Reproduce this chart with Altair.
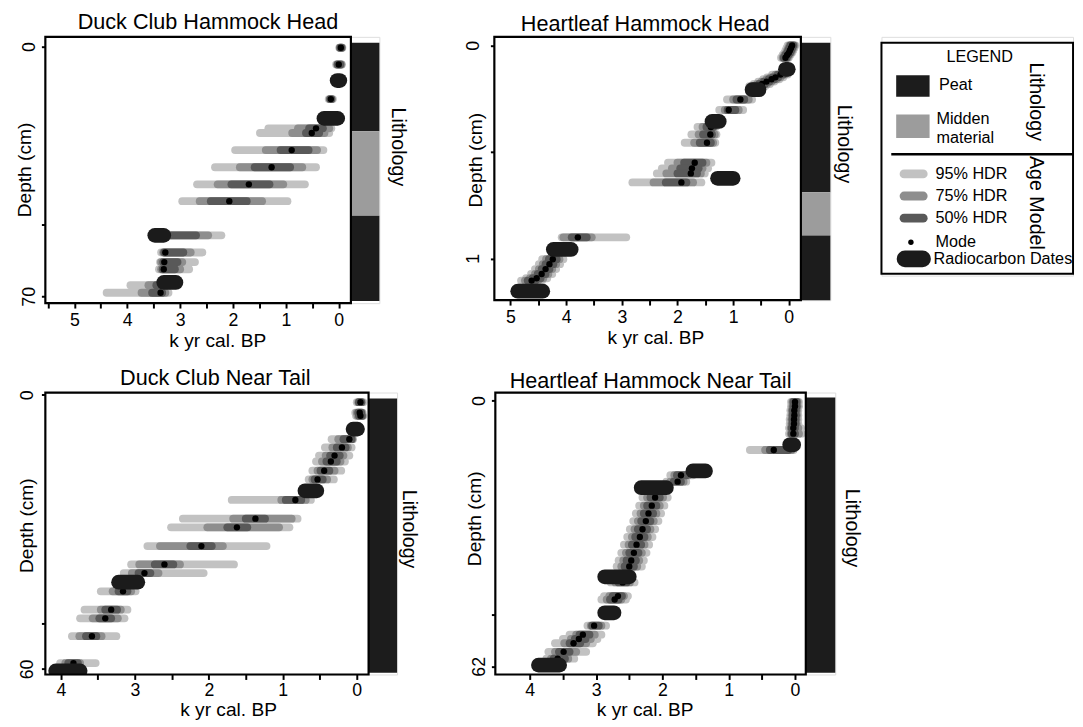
import altair as alt
import pandas as pd

FONT = "Liberation Sans"
C95, C75, C50 = "#c2c2c2", "#8e8e8e", "#595959"
CMODE, CDATE = "#000000", "#1b1b1b"
CPEAT, CMID = "#1c1c1c", "#9c9c9c"

# ---------------- Panel 1: Duck Club Hammock Head (depth cm, age k yr) -------------
p1_depth = [0.3, 5.0, 14.7, 22.9, 24.2, 29.0, 33.8, 38.6, 43.3, 52.9, 57.7, 60.4, 62.4, 66.9, 69.0]
p1_o95 = [-0.01, 0.05, 0.19, 1.33, 1.49, 1.96, 2.34, 2.68, 2.96, 3.45, 3.36, 3.38, 3.40, 3.94, 4.39]
p1_y95 = [-0.07, -0.06, 0.11, 0.14, 0.18, 0.29, 0.43, 0.64, 0.97, 2.22, 2.58, 2.72, 2.83, 3.15, 3.22]
p1_o75 = [-0.02, 0.03, 0.17, 0.77, 0.88, 1.38, 1.87, 2.29, 2.63, 3.42, 3.32, 3.36, 3.36, 3.60, 3.73]
p1_y75 = [-0.06, -0.05, 0.13, 0.18, 0.27, 0.41, 0.69, 1.05, 1.45, 2.47, 2.80, 2.96, 3.00, 3.20, 3.28]
p1_o50 = [-0.03, 0.02, 0.16, 0.56, 0.62, 1.10, 1.59, 2.03, 2.42, 3.38, 3.30, 3.32, 3.33, 3.45, 3.53]
p1_y50 = [-0.05, -0.03, 0.14, 0.30, 0.37, 0.57, 0.92, 1.31, 1.74, 2.70, 2.94, 3.05, 3.10, 3.25, 3.34]
p1_mode = [-0.04, 0.00, 0.15, 0.43, 0.51, 0.89, 1.27, 1.70, 2.07, 3.35, 3.28, 3.30, 3.31, 3.35, 3.37]
p1_date_depth = [9.5, 20.1, 52.9, 66.1]
p1_date_old = [0.03, 0.28, 3.48, 3.31]
p1_date_young = [-0.02, 0.02, 3.31, 3.08]
p1_lith_top = [-1.1, 23.7, 47.4]
p1_lith_bot = [23.7, 47.4, 71.3]
p1_lith_type = ["Peat", "Midden material", "Peat"]

# ---------------- Panel 2: Heartleaf Hammock Head (depth m) -------------
p2_depth = [0.0, 0.012, 0.024, 0.035, 0.045, 0.058,
            0.137, 0.150, 0.159, 0.170, 0.181, 0.191,
            0.254, 0.303, 0.383, 0.418, 0.457, 0.551, 0.577, 0.601, 0.643, 0.901,
            1.004, 1.027, 1.050, 1.073, 1.093, 1.104]
p2_o95 = [0.02, 0.04, 0.06, 0.08, 0.11, 0.14,
          0.30, 0.39, 0.46, 0.55, 0.63, 0.71,
          1.11, 1.25, 1.64, 1.75, 1.87, 2.17, 2.28, 2.37, 2.81, 4.08,
          4.43, 4.49, 4.56, 4.63, 4.72, 4.81]
p2_y95 = [-0.12, -0.10, -0.08, -0.06, -0.03, 0.00,
          0.02, 0.10, 0.17, 0.26, 0.34, 0.42,
          0.66, 0.82, 1.31, 1.30, 1.32, 1.39, 1.45, 1.51, 1.57, 2.92,
          4.05, 4.11, 4.18, 4.25, 4.34, 4.43]
p2_o75 = [-0.01, 0.01, 0.03, 0.05, 0.08, 0.11,
          0.24, 0.33, 0.40, 0.49, 0.57, 0.65,
          1.00, 1.15, 1.55, 1.62, 1.70, 2.00, 2.10, 2.20, 2.43, 4.05,
          4.36, 4.42, 4.49, 4.56, 4.65, 4.74]
p2_y75 = [-0.10, -0.08, -0.06, -0.04, -0.01, 0.02,
          0.07, 0.15, 0.22, 0.31, 0.39, 0.47,
          0.72, 0.90, 1.34, 1.33, 1.36, 1.48, 1.55, 1.58, 1.72, 3.54,
          4.12, 4.18, 4.25, 4.32, 4.41, 4.50]
p2_o50 = [-0.03, -0.01, 0.01, 0.03, 0.06, 0.09,
          0.20, 0.29, 0.36, 0.45, 0.53, 0.61,
          0.94, 1.10, 1.48, 1.54, 1.60, 1.88, 1.95, 2.00, 2.21, 3.90,
          4.31, 4.37, 4.44, 4.51, 4.60, 4.69]
p2_y50 = [-0.08, -0.06, -0.04, -0.02, 0.01, 0.04,
          0.10, 0.19, 0.26, 0.35, 0.43, 0.51,
          0.80, 0.96, 1.36, 1.38, 1.40, 1.55, 1.62, 1.65, 1.84, 3.63,
          4.17, 4.23, 4.30, 4.37, 4.46, 4.55]
p2_mode = [-0.06, -0.04, -0.02, 0.00, 0.03, 0.06,
           0.15, 0.24, 0.31, 0.40, 0.48, 0.56,
           0.87, 1.08, 1.40, 1.41, 1.47, 1.69, 1.74, 1.76, 1.93, 3.79,
           4.24, 4.30, 4.37, 4.44, 4.53, 4.62]
p2_date_depth = [0.112, 0.208, 0.357, 0.624, 0.958, 1.154]
p2_date_old = [0.06, 0.66, 1.38, 1.28, 4.23, 4.87]
p2_date_young = [0.01, 0.535, 1.25, 1.00, 3.91, 4.42]
p2_lith_top = [-0.012, 0.689, 0.892]
p2_lith_bot = [0.689, 0.892, 1.196]
p2_lith_type = ["Peat", "Midden material", "Peat"]

# ---------------- Panel 3: Duck Club Near Tail -------------
p3_depth = [1.6, 3.9, 4.6, 9.7, 11.5, 13.3, 14.6, 16.6, 18.5, 23.0, 27.1, 29.0, 33.1, 37.1, 39.0,
            43.0, 47.0, 48.9, 52.8, 58.7]
p3_o95 = [0.00, 0.02, 0.01, 0.34, 0.43, 0.51, 0.55, 0.60, 0.65, 1.69, 2.35, 2.51, 2.83, 3.05, 3.15,
          3.46, 3.68, 3.74, 3.85, 4.01]
p3_y95 = [-0.09, -0.08, -0.09, 0.05, 0.07, 0.10, 0.16, 0.21, 0.31, 0.62, 0.80, 0.91, 1.22, 1.66, 2.07,
          2.99, 3.10, 3.14, 3.25, 3.53]
p3_o75 = [-0.02, 0.00, -0.01, 0.25, 0.33, 0.42, 0.47, 0.53, 0.60, 1.02, 1.67, 2.02, 2.66, 2.94, 3.04,
          3.30, 3.46, 3.57, 3.75, 3.94]
p3_y75 = [-0.07, -0.07, -0.08, 0.06, 0.12, 0.18, 0.22, 0.30, 0.40, 0.69, 0.88, 1.05, 1.81, 2.39, 2.68,
          3.05, 3.19, 3.23, 3.45, 3.74]
p3_o50 = [-0.03, -0.02, -0.03, 0.18, 0.27, 0.36, 0.41, 0.49, 0.57, 0.96, 1.50, 1.75, 2.25, 2.73, 2.95,
          3.22, 3.40, 3.48, 3.66, 3.90]
p3_y50 = [-0.06, -0.06, -0.07, 0.07, 0.15, 0.23, 0.27, 0.37, 0.46, 0.75, 1.24, 1.48, 1.96, 2.48, 2.79,
          3.10, 3.24, 3.32, 3.52, 3.77]
p3_mode = [-0.05, -0.04, -0.05, 0.10, 0.20, 0.30, 0.35, 0.44, 0.53, 0.83, 1.37, 1.62, 2.10, 2.60, 2.87,
           3.16, 3.32, 3.40, 3.58, 3.83]
p3_date_depth = [7.5, 21.0, 41.0, 60.4]
p3_date_old = [0.05, 0.70, 3.22, 4.07]
p3_date_young = [-0.01, 0.54, 2.96, 3.74]
p3_lith_top = [0.8]
p3_lith_bot = [60.8]
p3_lith_type = ["Peat"]

# ---------------- Panel 4: Heartleaf Hammock Near Tail -------------
p4_depth = [0.3, 1.3, 2.3, 3.4, 4.4, 5.4, 6.4, 7.7, 11.5, 17.4, 18.9,
            22.6, 24.5, 26.3, 28.1, 30.0, 31.8, 33.6, 35.5, 37.3, 38.7,
            42.4, 45.6, 46.4, 52.5, 54.6, 55.6, 56.6, 58.6, 60.2]
p4_o95 = [0.06, 0.06, 0.07, 0.07, 0.08, 0.08, 0.09, 0.09, 0.68, 1.88, 1.94,
          2.30, 2.35, 2.40, 2.44, 2.49, 2.53, 2.58, 2.62, 2.66, 2.69,
          2.78, 2.88, 2.92, 3.13, 3.40, 3.50, 3.62, 3.72, 3.75]
p4_y95 = [-0.06, -0.06, -0.05, -0.05, -0.05, -0.05, -0.09, -0.10, 0.02, 1.54, 1.64,
          1.92, 1.97, 2.02, 2.06, 2.11, 2.15, 2.20, 2.24, 2.28, 2.31,
          2.42, 2.52, 2.55, 2.85, 2.92, 2.98, 3.05, 3.15, 3.33]
p4_o75 = [0.04, 0.04, 0.05, 0.05, 0.055, 0.055, 0.065, 0.065, 0.45, 1.82, 1.88,
          2.23, 2.28, 2.33, 2.37, 2.42, 2.46, 2.51, 2.55, 2.59, 2.62,
          2.71, 2.80, 2.84, 3.08, 3.30, 3.38, 3.48, 3.62, 3.68]
p4_y75 = [-0.04, -0.04, -0.03, -0.03, -0.025, -0.025, -0.05, -0.06, 0.05, 1.60, 1.68,
          1.99, 2.04, 2.09, 2.13, 2.18, 2.22, 2.27, 2.31, 2.35, 2.38,
          2.49, 2.58, 2.62, 2.92, 3.02, 3.08, 3.15, 3.30, 3.42]
p4_o50 = [0.025, 0.025, 0.035, 0.035, 0.04, 0.04, 0.05, 0.05, 0.38, 1.78, 1.83,
          2.18, 2.23, 2.28, 2.32, 2.37, 2.41, 2.46, 2.50, 2.54, 2.57,
          2.66, 2.75, 2.79, 3.06, 3.25, 3.32, 3.40, 3.56, 3.64]
p4_y50 = [-0.025, -0.025, -0.015, -0.015, -0.01, -0.01, 0.0, 0.0, 0.10, 1.64, 1.72,
          2.04, 2.09, 2.14, 2.18, 2.23, 2.27, 2.32, 2.36, 2.40, 2.43,
          2.54, 2.61, 2.66, 2.96, 3.10, 3.16, 3.24, 3.40, 3.47]
p4_mode = [0.00, 0.00, 0.01, 0.01, 0.015, 0.015, 0.025, 0.025, 0.32, 1.72, 1.77,
           2.11, 2.16, 2.21, 2.25, 2.30, 2.34, 2.39, 2.43, 2.47, 2.50,
           2.60, 2.67, 2.72, 3.03, 3.20, 3.26, 3.34, 3.49, 3.58]
p4_date_depth = [10.3, 16.4, 20.3, 41.1, 49.5, 61.7]
p4_date_old = [0.08, 1.54, 2.32, 2.87, 2.87, 3.87]
p4_date_young = [0.02, 1.35, 1.94, 2.50, 2.73, 3.55]
p4_lith_top = [-0.76]
p4_lith_bot = [63.5]
p4_lith_type = ["Peat"]

# ---------------- tick labels -------------
x_ticks_p1 = [0, 0.5, 1, 1.5, 2, 2.5, 3, 3.5, 4, 4.5, 5, 5.5]
x_ticks_p2 = [0, 0.5, 1, 1.5, 2, 2.5, 3, 3.5, 4, 4.5, 5]
x_ticks_p3 = [0, 0.5, 1, 1.5, 2, 2.5, 3, 3.5, 4]
x_ticks_p4 = [0, 0.5, 1, 1.5, 2, 2.5, 3, 3.5, 4]
y_ticks_p1, y_labels_p1 = [0, 50, 70], [0, 70]
y_ticks_p2, y_labels_p2 = [0, 0.5, 1], [0, 1]
y_ticks_p3, y_labels_p3 = [0, 50, 60], [0, 60]
y_ticks_p4, y_labels_p4 = [0, 50, 62], [0, 62]


def panel(title, d, geo):
    W, L, H = geo["W"], geo["L"], geo["H"]
    xl, xr = geo["xdom"]
    upx = (xl - xr) / W
    x_far = xr - upx * L
    xs = alt.Scale(domain=[x_far, xl], reverse=True, nice=False, zero=False)
    ys = alt.Scale(domain=list(geo["ydom"]), reverse=True, nice=False, zero=False)
    xaxis = alt.Axis(values=geo["xticks"],
                     labelExpr="datum.value % 1 === 0 ? format(datum.value, 'd') : ''",
                     title="k yr cal. BP", domain=False, grid=False, tickSize=5, tickWidth=2,
                     tickColor="black", labelFontSize=18, labelColor="black",
                     labelPadding=geo["xl_pad"], labelFlush=False, labelOverlap=False,
                     titleFontSize=19.5, titleFontWeight="normal", titleColor="black",
                     titleX=geo["xt_x"], titleY=geo["xt_y"], titleBaseline="alphabetic",
                     titleAlign="center")
    yaxis = alt.Axis(values=geo["yticks"],
                     labelExpr="indexof(%s, datum.value) >= 0 ? format(datum.value, 'd') : ''" % geo["ylabels"],
                     title="Depth (cm)", domain=False, grid=False, tickSize=4, tickWidth=2,
                     tickColor="black", labelAngle=270, labelAlign="center", labelBaseline="middle",
                     labelPadding=geo["yl_pad"], labelFontSize=18, labelColor="black",
                     labelFlush=False, labelOverlap=False, titleFontSize=19.5,
                     titleFontWeight="normal", titleColor="black", titleX=geo["yt_x"],
                     titleY=geo["yt_y"], titleAngle=270, titleAlign="center", titleBaseline="middle")

    rows = pd.DataFrame({"depth": d["depth"], "o95": d["o95"], "y95": d["y95"],
                         "o75": d["o75"], "y75": d["y75"], "o50": d["o50"], "y50": d["y50"],
                         "mode": d["mode"]})
    dates = pd.DataFrame({"depth": d["dd"], "old": d["dold"], "young": d["dyoung"]})
    lith = pd.DataFrame({"top": d["lt"], "bot": d["lb"], "type": d["ltype"]})

    X = lambda f: alt.X(f, scale=xs, axis=xaxis)
    Y = lambda f: alt.Y(f, scale=ys, axis=yaxis)
    base = alt.Chart(rows)
    l95 = base.mark_rule(strokeWidth=8, strokeCap="round", color=C95, clip=True).encode(
        x=X("o95:Q"), x2="y95:Q", y=Y("depth:Q"))
    l75 = base.mark_rule(strokeWidth=8, strokeCap="round", color=C75, clip=True).encode(
        x=X("o75:Q"), x2="y75:Q", y=Y("depth:Q"))
    l50 = base.mark_rule(strokeWidth=8, strokeCap="round", color=C50, clip=True).encode(
        x=X("o50:Q"), x2="y50:Q", y=Y("depth:Q"))
    lmode = base.mark_circle(size=42, color=CMODE, opacity=1, clip=True).encode(
        x=X("mode:Q"), y=Y("depth:Q"))
    ldate = alt.Chart(dates).mark_rule(strokeWidth=15, strokeCap="round", color=CDATE, clip=True).encode(
        x=X("old:Q"), x2="young:Q", y=Y("depth:Q"))
    llith = alt.Chart(lith).mark_rect().encode(
        x=alt.value(W), x2=alt.value(W + L), y=Y("top:Q"), y2="bot:Q",
        color=alt.Color("type:N", scale=alt.Scale(domain=["Peat", "Midden material"],
                                                  range=[CPEAT, CMID]), legend=None))
    lframe = alt.Chart(pd.DataFrame({"f": [0]})).mark_rect(
        filled=False, color="black", strokeWidth=2.2).encode(
        x=alt.value(0), x2=alt.value(W), y=alt.value(0), y2=alt.value(H))
    ltext = alt.Chart(pd.DataFrame({"t": ["Lithology"]})).mark_text(
        angle=90, fontSize=20, align="center", baseline="middle", color="black", font=FONT).encode(
        x=alt.value(W + L + geo["lith_dx"]), y=alt.value(geo["lith_ty"]), text="t:N")
    return alt.layer(l95, l75, l50, lmode, ldate, llith, lframe, ltext).properties(
        width=W + L, height=H,
        title=alt.TitleParams(text=title, fontSize=22, font=FONT, fontWeight="normal",
                              anchor="middle", frame="group", dx=geo["t_dx"],
                              offset=geo["t_off"], color="black"))


def pack(p):
    g = globals()
    return {k: g[p + "_" + v] for k, v in [("depth", "depth"), ("o95", "o95"), ("y95", "y95"),
                                             ("o75", "o75"), ("y75", "y75"), ("o50", "o50"),
                                             ("y50", "y50"), ("mode", "mode"),
                                             ("dd", "date_depth"), ("dold", "date_old"),
                                             ("dyoung", "date_young"), ("lt", "lith_top"),
                                             ("lb", "lith_bot"), ("ltype", "lith_type")]}


g1 = dict(W=311, L=29, H=271, xdom=(5.55, -0.23), ydom=(-2.75, 71.9), xticks=x_ticks_p1,
          yticks=y_ticks_p1, ylabels=y_labels_p1, yl_pad=12, yt_x=-21, yt_y=135,
          xl_pad=4, xt_x=175, xt_y=44, lith_dx=18.5, lith_ty=112, t_dx=-4.5, t_off=2)
g2 = dict(W=312, L=30, H=268, xdom=(5.29, -0.217), ydom=(-0.04, 1.196), xticks=x_ticks_p2,
          yticks=y_ticks_p2, ylabels=y_labels_p2, yl_pad=17, yt_x=-19, yt_y=125,
          xl_pad=4, xt_x=164, xt_y=44, lith_dx=13.5, lith_ty=109, t_dx=-17.5, t_off=0)
g3 = dict(W=329, L=29, H=287, xdom=(4.21, -0.16), ydom=(-0.5, 61.2), xticks=x_ticks_p3,
          yticks=y_ticks_p3, ylabels=y_labels_p3, yl_pad=14.5, yt_x=-19.5, yt_y=135,
          xl_pad=2, xt_x=186, xt_y=42, lith_dx=11.7, lith_ty=139, t_dx=-6, t_off=0.5)
g4 = dict(W=316, L=30, H=287, xdom=(4.52, -0.163), ydom=(-1.9, 63.9), xticks=x_ticks_p4,
          yticks=y_ticks_p4, ylabels=y_labels_p4, yl_pad=11.5, yt_x=-21, yt_y=128,
          xl_pad=2, xt_x=152, xt_y=42, lith_dx=17, lith_ty=138, t_dx=-15, t_off=-1)

c1 = panel("Duck Club Hammock Head", pack("p1"), g1)
c2 = panel("Heartleaf Hammock Head", pack("p2"), g2)
c3 = panel("Duck Club Near Tail", pack("p3"), g3)
c4 = panel("Heartleaf Hammock Near Tail", pack("p4"), g4)

# ---------------- custom legend (pixel layout inside its own box) -------------
leg_text = pd.DataFrame({
    "label": ["Peat", "Midden", "material", "95% HDR", "75% HDR", "50% HDR", "Mode", "Radiocarbon Dates"],
    "px": [58.5, 56, 56, 55, 55, 55, 55, 53],
    "py": [49.5, 83.5, 103, 139.5, 162, 184.5, 209, 226]})
leg_vtext = pd.DataFrame({"label": ["Lithology", "Age Model"], "px": [157, 157], "py": [66, 169]})
leg_title = pd.DataFrame({"label": ["LEGEND"], "px": [100], "py": [21]})
leg_sw = pd.DataFrame({"x1": [15, 15], "x2": [49, 49], "y1": [39, 79], "y2": [61, 103],
                       "c": [CPEAT, CMID]})
leg_rules = pd.DataFrame({"x1": [23, 23, 23, 24], "x2": [42.5, 42.5, 42.5, 41.8],
                          "py": [139.5, 162, 184.5, 226], "w": [9, 9, 9, 17],
                          "c": [C95, C75, C50, CDATE]})
leg_pt = pd.DataFrame({"px": [30], "py": [209]})
leg_box = pd.DataFrame({"x1": [0], "x2": [195], "y1": [6], "y2": [241]})
leg_sep = pd.DataFrame({"x1": [10], "x2": [195], "py": [119.5]})

PX = lambda f: alt.X(f, scale=None)
PY = lambda f: alt.Y(f, scale=None)
legend = alt.layer(
    alt.Chart(leg_box).mark_rect(filled=False, color="black", strokeWidth=2).encode(
        x=PX("x1:Q"), x2="x2:Q", y=PY("y1:Q"), y2="y2:Q"),
    alt.Chart(leg_sep).mark_rule(color="black", strokeWidth=2.5).encode(
        x=PX("x1:Q"), x2="x2:Q", y=PY("py:Q")),
    alt.Chart(leg_sw).mark_rect().encode(
        x=PX("x1:Q"), x2="x2:Q", y=PY("y1:Q"), y2="y2:Q", color=alt.Color("c:N", scale=None)),
    alt.Chart(leg_rules).mark_rule(strokeCap="round").encode(
        x=PX("x1:Q"), x2="x2:Q", y=PY("py:Q"), color=alt.Color("c:N", scale=None),
        strokeWidth=alt.StrokeWidth("w:Q", scale=None)),
    alt.Chart(leg_pt).mark_circle(size=30, color="black", opacity=1).encode(
        x=PX("px:Q"), y=PY("py:Q")),
    alt.Chart(leg_text).mark_text(align="left", baseline="middle", fontSize=16.5, font=FONT,
                                  color="black").encode(
        x=PX("px:Q"), y=PY("py:Q"), text="label:N"),
    alt.Chart(leg_title).mark_text(align="center", baseline="middle", fontSize=16.5, font=FONT,
                                   color="black").encode(
        x=PX("px:Q"), y=PY("py:Q"), text="label:N"),
    alt.Chart(leg_vtext).mark_text(align="center", baseline="middle", fontSize=20, angle=90,
                                   font=FONT, color="black").encode(
        x=PX("px:Q"), y=PY("py:Q"), text="label:N"),
).properties(width=195, height=243)

row1 = alt.hconcat(alt.hconcat(c1, c2, spacing=57), legend, spacing=26)
row2 = alt.hconcat(c3, c4, spacing=45)
chart = alt.vconcat(row1, row2, spacing=16).properties(
    padding={"left": 6, "top": -4, "right": 0, "bottom": 0}
).configure_view(strokeWidth=0, stroke="transparent").configure_axis(
    labelFont=FONT, titleFont=FONT
).configure_title(font=FONT).configure_text(font=FONT).configure(font=FONT)

chart.save("out.html", embed_options={"renderer": "svg", "actions": False})
